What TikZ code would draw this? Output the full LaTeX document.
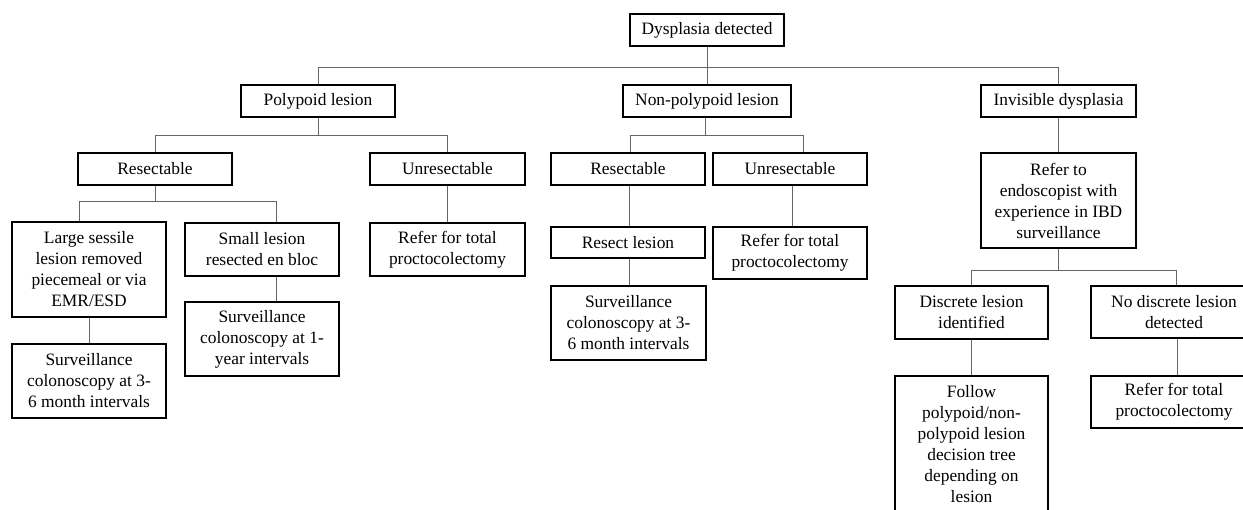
\documentclass[tikz,border=0pt]{standalone}
\usepackage{fontspec}
\setmainfont{Liberation Serif}
\begin{document}
\begin{tikzpicture}[x=1pt,y=-1pt,
  box/.style={draw=black,line width=1.3pt,inner sep=0pt,align=center,fill=white,
    font=\fontsize{17.4}{21}\selectfont},
  bx/.style 2 args={minimum width=#1pt,minimum height=#2pt},
  conn/.style={draw=black!60,line width=1pt}]
\useasboundingbox (0,0) rectangle (1243,509);
\clip (0,0) rectangle (1243,509);
\coordinate (h0) at (0,67.5);
\coordinate (h1) at (0,135);
\coordinate (h2) at (0,201);
\coordinate (h3) at (0,270);
% nodes
\node[box,bx={154}{32}] (dys) at (707,30) {Dysplasia detected};
\node[box,bx={154}{32}] (poly) at (318,101) {Polypoid lesion};
\node[box,bx={168}{32}] (nonp) at (707,101) {Non-polypoid lesion};
\node[box,bx={155}{32}] (invis) at (1058.5,101) {Invisible dysplasia};
\node[box,bx={154}{32}] (res1) at (155,169) {Resectable};
\node[box,bx={155}{32}] (unres1) at (447.5,169) {Unresectable};
\node[box,bx={154}{32}] (res2) at (628,169) {Resectable};
\node[box,bx={154}{32}] (unres2) at (790,169) {Unresectable};
\node[box,bx={155}{95}] (endo) at (1058.5,200.5) {Refer to\\endoscopist with\\experience in IBD\\surveillance};
\node[box,bx={154}{95}] (large) at (89,269.5) {Large sessile\\lesion removed\\piecemeal or via\\EMR/ESD};
\node[box,bx={154}{53}] (small) at (262,249.5) {Small lesion\\resected en bloc};
\node[box,bx={155}{53}] (ref1) at (447.5,249.5) {Refer for total\\proctocolectomy};
\node[box,bx={154}{31}] (resect) at (628,242.5) {Resect lesion};
\node[box,bx={154}{52}] (ref2) at (790,253) {Refer for total\\proctocolectomy};
\node[box,bx={154}{74}] (surv1) at (89,381) {Surveillance\\colonoscopy at 3-\\6 month intervals};
\node[box,bx={154}{74}] (surv2) at (262,339) {Surveillance\\colonoscopy at 1-\\year intervals};
\node[box,bx={155}{74}] (surv3) at (628.5,323) {Surveillance\\colonoscopy at 3-\\6 month intervals};
\node[box,bx={153}{53}] (disc) at (971.5,312.5) {Discrete lesion\\identified};
\node[box,bx={166}{52}] (nodisc) at (1174,312) {No discrete lesion\\detected};
\node[box,bx={153}{137}] (follow) at (971.5,444.5) {Follow\\polypoid/non-\\polypoid lesion\\decision tree\\depending on\\lesion};
\node[box,bx={166}{52}] (ref3) at (1174,402) {Refer for total\\proctocolectomy};
% shifted attachment points
\coordinate (unres2t) at ([xshift=13pt]unres2.north);
\coordinate (res2t) at ([xshift=2pt]res2.north);
\coordinate (larget) at ([xshift=-10pt]large.north);
\coordinate (smallt) at ([xshift=14pt]small.north);
\coordinate (nodisct) at ([xshift=2pt]nodisc.north);
% connectors
\draw[conn] (dys.south) -- (dys.south |- h0);
\draw[conn] (poly.north) |- (h0 -| invis.north) -- (invis.north);
\draw[conn] (nonp.north) -- (nonp.north |- h0);
\draw[conn] (poly.south) -- (poly.south |- h1);
\draw[conn] (res1.north) |- (h1 -| unres1.north) -- (unres1.north);
\draw[conn] ([xshift=-2pt]nonp.south) -- ([xshift=-2pt]nonp.south |- h1);
\draw[conn] (res2t) |- (h1 -| unres2t) -- (unres2t);
\draw[conn] (invis.south) -- (endo.north);
\draw[conn] (res1.south) -- (res1.south |- h2);
\draw[conn] (larget) |- (h2 -| smallt) -- (smallt);
\draw[conn] (large.south) -- (surv1.north);
\draw[conn] ([xshift=14pt]small.south) -- ([xshift=14pt]surv2.north);
\draw[conn] (unres1.south) -- (ref1.north);
\draw[conn] ([xshift=1pt]res2.south) -- ([xshift=1pt]resect.north);
\draw[conn] ([xshift=1pt]resect.south) -- ([xshift=0.5pt]surv3.north);
\draw[conn] ([xshift=2pt]unres2.south) -- ([xshift=2pt]ref2.north);
\draw[conn] (endo.south) -- (endo.south |- h3);
\draw[conn] (disc.north) |- (h3 -| nodisct) -- (nodisct);
\draw[conn] (disc.south) -- (follow.north);
\draw[conn] ([xshift=3pt]nodisc.south) -- ([xshift=3pt]ref3.north);
\end{tikzpicture}
\end{document}
